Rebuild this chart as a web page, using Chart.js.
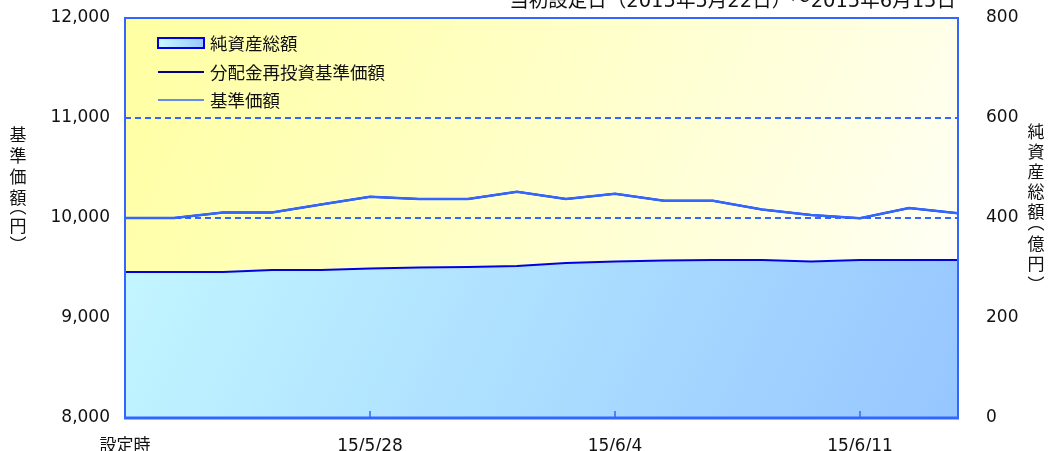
<!DOCTYPE html>
<html lang="ja">
<head>
    <meta charset="UTF-8">
    <title>基準価額・純資産総額の推移</title>
    <script src="https://cdn.jsdelivr.net/npm/chart.js"></script>
    <style>
        html, body { margin: 0; padding: 0; background: #fff; }
        #wrap { position: relative; width: 1048px; height: 451px; }
    </style>
</head>
<body>
<div id="wrap"><canvas id="navChart" width="1048" height="451"></canvas></div>
<script>
    // Data
    const categories = ['設定時', '15/5/22', '15/5/25', '15/5/26', '15/5/27', '15/5/28', '15/5/29',
        '15/6/1', '15/6/2', '15/6/3', '15/6/4', '15/6/5', '15/6/8', '15/6/9', '15/6/10',
        '15/6/11', '15/6/12', '15/6/15'];
    const tickLabels = ['設定時', '15/5/28', '15/6/4', '15/6/11'];
    const navValues = [10000, 10000, 10055, 10055, 10135, 10213, 10190, 10190, 10263, 10190,
        10242, 10173, 10173, 10085, 10030, 9997, 10100, 10047];
    const reinvestValues = [10000, 10000, 10055, 10055, 10135, 10213, 10190, 10190, 10263, 10190,
        10242, 10173, 10173, 10085, 10030, 9997, 10100, 10047];
    const assetValues = [292, 292, 292, 296, 296, 299, 301, 302, 304, 310,
        313, 315, 316, 316, 313, 316, 316, 316];
    const seriesNames = ['純資産総額', '分配金再投資基準価額', '基準価額'];
    const titleText = '当初設定日（2015年5月22日）～2015年6月15日';
    const leftAxisTitle = ['基', '準', '価', '額', '︵', '円', '︶'];
    const rightAxisTitle = ['純', '資', '産', '総', '額', '︵', '億', '円', '︶'];

    const FONT = "'DejaVu Sans', 'Noto Sans CJK JP', sans-serif";
    const CJK = "'Noto Sans CJK JP', sans-serif";
    const BLUE = '#3366ff';
    const NAVY = '#000080';
    const AREA_EDGE = '#0000e0';

    function areaGradient(ctx, ca) {
        const g = ctx.createLinearGradient(ca.left, ca.top, ca.right, ca.bottom);
        g.addColorStop(0, '#c8fcff');
        g.addColorStop(1, '#96c6ff');
        return g;
    }

    // stacked vertical axis title, brackets take less room
    function drawVertical(ctx, chars, x, y, step, brStep) {
        let prev = null;
        chars.forEach(ch => {
            const open = ch === '︵', close = ch === '︶';
            const br = open || close;
            if (prev !== null) y += (br || prev) ? brStep : step;
            // vertical bracket glyphs sit at one end of their cell
            ctx.fillText(ch, x, y + (open ? -5 : close ? 5 : 0));
            prev = br;
        });
    }

    // background, border, legend, titles
    const decorations = {
        id: 'decorations',
        beforeDraw(chart) {
            const { ctx, chartArea: ca } = chart;
            const g = ctx.createLinearGradient(ca.left, ca.top, ca.right, ca.bottom);
            g.addColorStop(0, '#ffffa2');
            g.addColorStop(0.45, '#ffffc8');
            g.addColorStop(0.8, '#ffffe8');
            g.addColorStop(1, '#ffffff');
            ctx.save();
            ctx.fillStyle = g;
            ctx.fillRect(ca.left, ca.top, ca.right - ca.left, ca.bottom - ca.top);
            ctx.restore();
        },
        afterDatasetsDraw(chart) {
            const { ctx, chartArea: ca } = chart;
            const x = chart.scales.x;
            ctx.save();
            ctx.strokeStyle = BLUE;
            ctx.lineWidth = 2;
            ctx.beginPath();
            ctx.moveTo(ca.left, ca.bottom);
            ctx.lineTo(ca.left, ca.top);
            ctx.lineTo(ca.right, ca.top);
            ctx.lineTo(ca.right, ca.bottom);
            ctx.stroke();
            ctx.lineWidth = 3;
            ctx.beginPath();
            ctx.moveTo(ca.left - 1, ca.bottom);
            ctx.lineTo(ca.right + 1, ca.bottom);
            ctx.stroke();
            // small tick marks pointing up
            ctx.lineWidth = 1.5;
            tickLabels.slice(1).forEach(lbl => {
                const px = x.getPixelForValue(categories.indexOf(lbl));
                ctx.beginPath();
                ctx.moveTo(px, ca.bottom);
                ctx.lineTo(px, ca.bottom - 7);
                ctx.stroke();
            });

            // legend
            const lx = ca.left + 33, ly = ca.top + 25;
            ctx.fillStyle = areaGradient(ctx, { left: lx, top: ly - 5, right: lx + 46, bottom: ly + 5 });
            ctx.fillRect(lx, ly - 5, 46, 10);
            ctx.strokeStyle = AREA_EDGE;
            ctx.lineWidth = 2;
            ctx.strokeRect(lx, ly - 5, 46, 10);
            ctx.strokeStyle = NAVY;
            ctx.beginPath();
            ctx.moveTo(lx, ly + 29);
            ctx.lineTo(lx + 46, ly + 29);
            ctx.stroke();
            ctx.strokeStyle = BLUE;
            ctx.lineWidth = 1.5;
            ctx.beginPath();
            ctx.moveTo(lx, ly + 57);
            ctx.lineTo(lx + 46, ly + 57);
            ctx.stroke();
            ctx.fillStyle = '#111';
            ctx.font = '17.5px ' + CJK;
            ctx.textBaseline = 'middle';
            ctx.textAlign = 'left';
            ctx.fillText(seriesNames[0], lx + 52, ly);
            ctx.fillText(seriesNames[1], lx + 52, ly + 29);
            ctx.fillText(seriesNames[2], lx + 52, ly + 57);
            ctx.restore();
        },
        afterDraw(chart) {
            const { ctx, chartArea: ca } = chart;
            ctx.save();
            ctx.fillStyle = '#111';
            ctx.font = '19.5px ' + FONT;
            ctx.textAlign = 'right';
            ctx.textBaseline = 'alphabetic';
            ctx.fillText(titleText, ca.right - 2, 7);

            ctx.font = '17px ' + CJK;
            ctx.textAlign = 'center';
            ctx.textBaseline = 'middle';
            drawVertical(ctx, leftAxisTitle, 18, 135, 21, 14);
            drawVertical(ctx, rightAxisTitle, 1036, 132, 20, 16);
            ctx.restore();
        }
    };

    // keep the plot box where the reference has it
    const noLabelPad = (s, w) => { s.width = w; s.paddingTop = 0; s.paddingBottom = 0; };

    const ctx = document.getElementById('navChart').getContext('2d');
    new Chart(ctx, {
        type: 'line',
        data: {
            labels: categories,
            datasets: [
                {
                    label: seriesNames[0],
                    data: assetValues,
                    yAxisID: 'y1',
                    fill: 'origin',
                    borderColor: AREA_EDGE,
                    borderWidth: 2,
                    backgroundColor: (c) => {
                        const ca = c.chart.chartArea;
                        if (!ca) return '#b8e8ff';
                        return areaGradient(c.chart.ctx, ca);
                    },
                    pointRadius: 0,
                    tension: 0,
                    order: 3
                },
                {
                    label: seriesNames[1],
                    data: reinvestValues,
                    yAxisID: 'y',
                    borderColor: NAVY,
                    borderWidth: 2,
                    fill: false,
                    pointRadius: 0,
                    tension: 0,
                    order: 2
                },
                {
                    label: seriesNames[2],
                    data: navValues,
                    yAxisID: 'y',
                    borderColor: BLUE,
                    borderWidth: 2.5,
                    fill: false,
                    pointRadius: 0,
                    tension: 0,
                    order: 1
                }
            ]
        },
        options: {
            responsive: false,
            animation: false,
            layout: { padding: { top: 18, left: 0, right: 0, bottom: 0 } },
            plugins: {
                legend: { display: false },
                tooltip: { enabled: false }
            },
            scales: {
                x: {
                    offset: false,
                    grid: { display: false },
                    border: { display: false },
                    ticks: {
                        autoSkip: false,
                        maxRotation: 0,
                        padding: 10,
                        color: '#111',
                        font: { family: FONT, size: 17 },
                        callback: (v, i) => tickLabels.includes(categories[i]) ? categories[i] : ''
                    },
                    afterFit: (s) => { s.height = 33; }
                },
                y: {
                    position: 'left',
                    min: 8000,
                    max: 12000,
                    grid: {
                        drawTicks: false,
                        lineWidth: 2,
                        color: (c) => (c.tick && (c.tick.value === 10000 || c.tick.value === 11000)) ? BLUE : 'rgba(0,0,0,0)'
                    },
                    border: { display: false, dash: [6, 4] },
                    ticks: {
                        stepSize: 1000,
                        padding: 15,
                        color: '#111',
                        font: { family: FONT, size: 17 },
                        callback: (v) => v.toLocaleString('en-US')
                    },
                    afterFit: (s) => noLabelPad(s, 125)
                },
                y1: {
                    position: 'right',
                    min: 0,
                    max: 800,
                    grid: { display: false },
                    border: { display: false },
                    ticks: {
                        stepSize: 200,
                        padding: 20,
                        color: '#111',
                        font: { family: FONT, size: 17 }
                    },
                    afterFit: (s) => noLabelPad(s, 90)
                }
            }
        },
        plugins: [decorations]
    });
</script>
</body>
</html>
